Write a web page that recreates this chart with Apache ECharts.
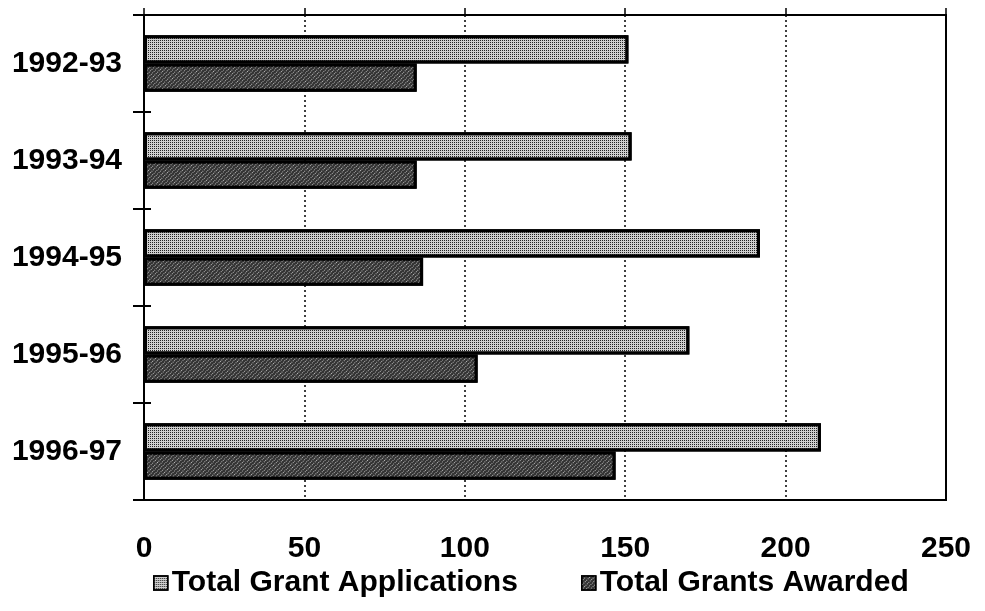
<!DOCTYPE html>
<html>
<head>
<meta charset="utf-8">
<script src="https://cdn.jsdelivr.net/npm/echarts@6/dist/echarts.min.js"></script>
<style>
  html, body { margin: 0; padding: 0; background: #fff; }
  #chart { width: 985px; height: 611px; }
</style>
</head>
<body>
<div id="chart"></div>
<script>
const categories = ['1992-93', '1993-94', '1994-95', '1995-96', '1996-97'];
const applications = [151, 152, 192, 170, 211];
const awarded = [85, 85, 87, 104, 147];
const xTicks = [0, 50, 100, 150, 200, 250];
const seriesNames = ['Total Grant Applications', 'Total Grants Awarded'];

const FONT = '"Liberation Sans", Arial, sans-serif';

const appStyle = {
  color: '#cfcfcf',
  borderColor: '#000',
  borderWidth: 3,
  decal: { symbol: 'rect', symbolSize: 1, dashArrayX: [1, 1], dashArrayY: [1, 1], color: '#222', rotation: 0 }
};
const awdStyle = {
  color: '#333333',
  borderColor: '#000',
  borderWidth: 3,
  decal: { symbol: 'rect', symbolSize: 1, dashArrayX: [1, 1], dashArrayY: [1, 2], color: '#b8b8b8', rotation: -0.785 }
};

const chart = echarts.init(document.getElementById('chart'), null, { renderer: 'canvas' });
chart.setOption({
  animation: false,
  backgroundColor: '#fff',
  grid: { left: 144, right: 39, top: 15, bottom: 111, show: true, borderColor: '#000', borderWidth: 2, backgroundColor: 'transparent' },
  legend: [
    {
      data: [seriesNames[0]], left: 148, top: 563,
      itemWidth: 14, itemHeight: 14, icon: 'rect', itemGap: 0,
      textStyle: { fontFamily: FONT, fontWeight: 'bold', fontSize: 30, color: '#000', padding: [0, 0, 0, -1] },
      itemStyle: { borderColor: '#000', borderWidth: 1.5 }
    },
    {
      data: [seriesNames[1]], left: 576, top: 563,
      itemWidth: 14, itemHeight: 14, icon: 'rect', itemGap: 0,
      textStyle: { fontFamily: FONT, fontWeight: 'bold', fontSize: 30, color: '#000', padding: [0, 0, 0, -1] },
      itemStyle: { borderColor: '#000', borderWidth: 1.5 }
    }
  ],
  xAxis: [
    {
      type: 'value', position: 'bottom', min: xTicks[0], max: xTicks[xTicks.length - 1], interval: 50,
      axisLine: { show: true, lineStyle: { color: '#000', width: 2 } },
      axisTick: { show: false },
      axisLabel: { margin: 34, fontFamily: FONT, fontWeight: 'bold', fontSize: 30, color: '#000' },
      splitLine: { show: true, lineStyle: { color: '#000', width: 1.5, type: [2, 3] } }
    },
    {
      type: 'value', position: 'top', min: xTicks[0], max: xTicks[xTicks.length - 1], interval: 50,
      axisLine: { show: true, lineStyle: { color: '#000', width: 2 } },
      axisTick: { show: true, length: 7, lineStyle: { color: '#000', width: 1.5 } },
      axisLabel: { show: false },
      splitLine: { show: false }
    }
  ],
  yAxis: [
    {
      type: 'category', data: categories, inverse: true,
      axisLine: { show: true, lineStyle: { color: '#000', width: 2 } },
      axisTick: { show: true, length: 11, lineStyle: { color: '#000', width: 2 } },
      axisLabel: { margin: 22, fontFamily: FONT, fontWeight: 'bold', fontSize: 30, color: '#000' },
      splitLine: { show: false }
    },
    {
      type: 'category', data: categories, inverse: true, position: 'left',
      axisLine: { show: false },
      axisTick: { show: true, inside: true, length: 7, lineStyle: { color: '#000', width: 2 } },
      axisLabel: { show: false },
      splitLine: { show: false }
    }
  ],
  series: [
    {
      name: seriesNames[0], type: 'bar', data: applications,
      xAxisIndex: 0, yAxisIndex: 0,
      barGap: '0%', barCategoryGap: '42%',
      itemStyle: appStyle
    },
    {
      name: seriesNames[1], type: 'bar', data: awarded,
      xAxisIndex: 0, yAxisIndex: 0,
      barGap: '0%', barCategoryGap: '42%',
      itemStyle: awdStyle
    }
  ]
});
</script>
</body>
</html>
